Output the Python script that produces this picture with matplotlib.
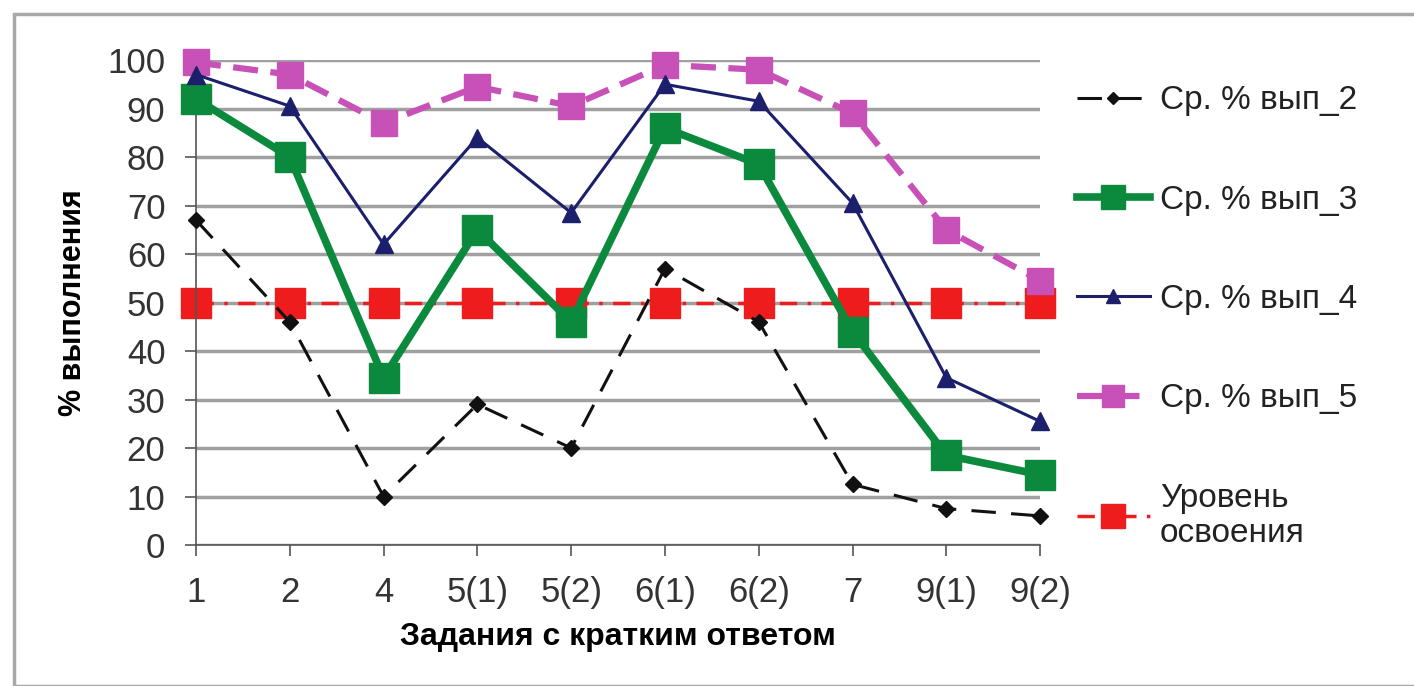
import matplotlib

matplotlib.use("Agg")
import matplotlib.pyplot as plt
from matplotlib.patches import Rectangle

plt.rcParams.update({
    "font.family": ["Liberation Sans", "DejaVu Sans"],
    "text.color": "#222222",
    "axes.edgecolor": "#555555",
    "xtick.color": "#555555",
    "ytick.color": "#555555",
    "xtick.labelcolor": "#333333",
    "ytick.labelcolor": "#333333",
})

TASKS = ["1", "2", "4", "5(1)", "5(2)", "6(1)", "6(2)", "7", "9(1)", "9(2)"]
AVG_2 = [67, 46, 10, 29, 20, 57, 46, 12.5, 7.5, 6]
AVG_3 = [92, 80, 34.5, 65, 46, 86, 78.5, 44, 18.5, 14.5]
AVG_4 = [97, 90.5, 62, 84, 68.5, 95, 91.5, 70.5, 34.5, 25.5]
AVG_5 = [99.5, 97, 87, 94.5, 90.5, 99, 98, 89, 65, 54.5]
LEVEL = [50] * len(TASKS)

fig = plt.figure(figsize=(14.14, 6.86), dpi=100)
fig.patches.append(Rectangle((0.010, 0.0), 0.995, 0.980, transform=fig.transFigure,
                             fill=False, edgecolor="#a8a8a8", linewidth=2.5))

ax = fig.add_axes([0.1386, 0.2055, 0.597, 0.707])
x = range(len(TASKS))

ax.plot(x, AVG_2, color="#111111", linewidth=2.2, linestyle=(0, (8, 5)),
        marker="D", markersize=8, label="Ср. % вып_2", clip_on=False, zorder=5)
ax.plot(x, AVG_3, color="#0b8a3e", linewidth=5.5, marker="s", markersize=21,
        label="Ср. % вып_3", clip_on=False, zorder=4)
ax.plot(x, AVG_4, color="#1c1f6b", linewidth=2.2, marker="^", markersize=13,
        label="Ср. % вып_4", clip_on=False, zorder=6)
ax.plot(x, AVG_5, color="#c851b8", linewidth=4.5, linestyle=(0, (4, 2)),
        marker="s", markersize=19, label="Ср. % вып_5", clip_on=False, zorder=3)
ax.plot(x, LEVEL, color="#ee1c1c", linewidth=2.5, linestyle=(0, (5, 3, 1, 3)),
        marker="s", markersize=22, label="Уровень\nосвоения", clip_on=False, zorder=2)

ax.set_xlim(0, len(TASKS) - 1)
ax.set_ylim(0, 100)
ax.set_xticks(list(x))
ax.set_xticklabels(TASKS)
ax.set_yticks(range(0, 101, 10))
ax.tick_params(axis="both", labelsize=25, length=8, width=1.2)
ax.tick_params(axis="x", pad=14)
ax.tick_params(axis="y", pad=14)

ax.grid(axis="y", color="#a0a0a0", linewidth=2.5)
ax.set_axisbelow(True)
for s in ("top", "right"):
    ax.spines[s].set_visible(False)
ax.spines["left"].set_linewidth(1.2)
ax.spines["bottom"].set_linewidth(1.2)

ax.set_xlabel("Задания с кратким ответом", fontsize=23, fontweight="bold", labelpad=10)
ax.set_ylabel("% выполнения", fontsize=22, fontweight="bold", labelpad=14)

ax.legend(loc="upper left", bbox_to_anchor=(0.752, 0.895), bbox_transform=fig.transFigure,
          frameon=False, fontsize=24, handlelength=2.2, handletextpad=0.3,
          labelspacing=2.05, borderaxespad=0, markerscale=0.8)

fig.savefig("out.png", dpi=100, facecolor="white")
